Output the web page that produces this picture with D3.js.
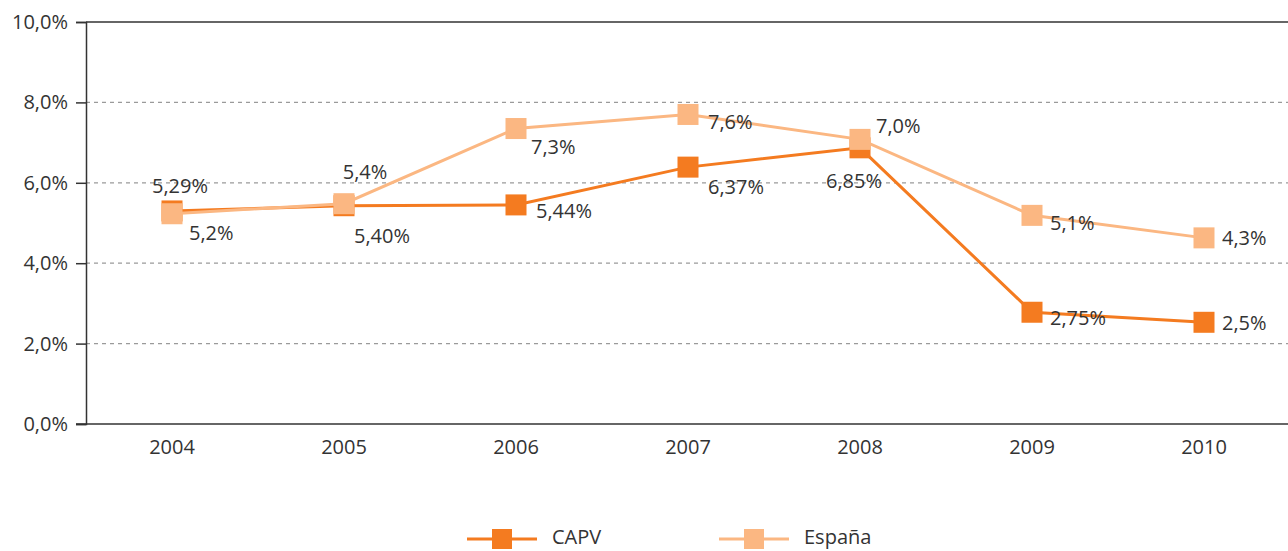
<!DOCTYPE html>
<html>
<head>
<meta charset="utf-8">
<script src="https://cdn.jsdelivr.net/npm/d3@7"></script>
<style>
  html, body { margin: 0; padding: 0; background: #fff; }
  svg { display: block; font-family: "Open Sans", "Noto Sans", sans-serif; }
</style>
</head>
<body>
<svg id="chart" width="1288" height="551"></svg>
<script>
// ---- data ----
const years = ["2004", "2005", "2006", "2007", "2008", "2009", "2010"];
const capvValues = [5.30, 5.43, 5.45, 6.39, 6.87, 2.78, 2.53];
const espanaValues = [5.23, 5.48, 7.35, 7.70, 7.08, 5.19, 4.63];
const capvLabels = ["5,29%", "5,40%", "5,44%", "6,37%", "6,85%", "2,75%", "2,5%"];
const espanaLabels = ["5,2%", "5,4%", "7,3%", "7,6%", "7,0%", "5,1%", "4,3%"];
const yTicks = [0, 2, 4, 6, 8, 10];
const seriesNames = ["CAPV", "España"];

// ---- layout ----
const W = 1288, H = 551;
const plot = { left: 86, right: 1290, top: 22, bottom: 424 };
const colors = { CAPV: "#F47B20", "España": "#FBB782" };
const textColor = "#333333";
const fontSize = 20;

// label placement (offsets from the point, anchor)
const capvLabelPos = [
  { dx: 8, dy: -18, a: "middle" },
  { dx: 10, dy: 37, a: "start" },
  { dx: 20, dy: 13, a: "start" },
  { dx: 20, dy: 27, a: "start" },
  { dx: -6, dy: 40, a: "middle" },
  { dx: 18, dy: 13, a: "start" },
  { dx: 18, dy: 8, a: "start" }
];
const espanaLabelPos = [
  { dx: 17, dy: 26, a: "start" },
  { dx: 21, dy: -25, a: "middle" },
  { dx: 15, dy: 25, a: "start" },
  { dx: 20, dy: 15, a: "start" },
  { dx: 16, dy: -6, a: "start" },
  { dx: 18, dy: 15, a: "start" },
  { dx: 18, dy: 7, a: "start" }
];

const svg = d3.select("#chart");

const x = d3.scaleBand().domain(years).range([plot.left, plot.right]);
const y = d3.scaleLinear().domain([0, 10]).range([plot.bottom, plot.top]);
const cx = d => x(d) + x.bandwidth() / 2;

// gridlines
svg.append("g")
  .selectAll("line")
  .data(yTicks.filter(t => t > 0 && t < 10))
  .join("line")
  .attr("x1", plot.left).attr("x2", W)
  .attr("y1", d => y(d)).attr("y2", d => y(d))
  .attr("stroke", "#9a9a9a")
  .attr("stroke-width", 1.3)
  .attr("stroke-dasharray", "4,4");

// top border line
svg.append("line")
  .attr("x1", plot.left).attr("x2", W)
  .attr("y1", y(10)).attr("y2", y(10))
  .attr("stroke", textColor).attr("stroke-width", 1.5);

// y axis
const yAxis = d3.axisLeft(y)
  .tickValues(yTicks)
  .tickSize(10)
  .tickPadding(8)
  .tickFormat(d => d3.format(".1f")(d).replace(".", ",") + "%");
const gy = svg.append("g").attr("transform", `translate(${plot.left},0)`).call(yAxis);
gy.select(".domain").attr("stroke", textColor).attr("stroke-width", 1.5);
gy.selectAll(".tick line").attr("stroke", textColor).attr("stroke-width", 1.5);
gy.selectAll(".tick text")
  .attr("fill", textColor)
  .style("font-size", fontSize + "px")
  .style("font-family", "'Open Sans', 'Noto Sans', sans-serif");

// x axis
const xAxis = d3.axisBottom(x).tickSize(0).tickPadding(16);
const gx = svg.append("g").attr("transform", `translate(0,${plot.bottom})`).call(xAxis);
gx.select(".domain").remove();
gx.selectAll(".tick text")
  .attr("fill", textColor)
  .style("font-size", fontSize + "px")
  .style("font-family", "'Open Sans', 'Noto Sans', sans-serif");
svg.append("line")
  .attr("x1", plot.left - 10).attr("x2", W)
  .attr("y1", y(0)).attr("y2", y(0))
  .attr("stroke", textColor).attr("stroke-width", 1.5);

// series
const series = [
  { name: "CAPV", values: capvValues, labels: capvLabels, pos: capvLabelPos },
  { name: "España", values: espanaValues, labels: espanaLabels, pos: espanaLabelPos }
];

const line = d3.line().x((d, i) => cx(years[i])).y(d => y(d));
const ms = 21;

series.forEach(s => {
  const g = svg.append("g");
  g.append("path")
    .datum(s.values)
    .attr("d", line)
    .attr("fill", "none")
    .attr("stroke", colors[s.name])
    .attr("stroke-width", 3);
  g.selectAll("rect")
    .data(s.values)
    .join("rect")
    .attr("x", (d, i) => cx(years[i]) - ms / 2)
    .attr("y", d => y(d) - ms / 2)
    .attr("width", ms).attr("height", ms)
    .attr("fill", colors[s.name]);
});

// labels on top
series.forEach(s => {
  svg.append("g")
    .selectAll("text")
    .data(s.values)
    .join("text")
    .attr("x", (d, i) => cx(years[i]) + s.pos[i].dx)
    .attr("y", (d, i) => y(d) + s.pos[i].dy)
    .attr("text-anchor", (d, i) => s.pos[i].a)
    .attr("fill", textColor)
    .style("font-size", fontSize + "px")
    .text((d, i) => s.labels[i]);
});

// legend
const legendY = 539;
const legendItems = [
  { name: seriesNames[0], x0: 467 },
  { name: seriesNames[1], x0: 719 }
];
const lg = svg.append("g");
legendItems.forEach(it => {
  lg.append("line")
    .attr("x1", it.x0).attr("x2", it.x0 + 70)
    .attr("y1", legendY).attr("y2", legendY)
    .attr("stroke", colors[it.name]).attr("stroke-width", 3);
  lg.append("rect")
    .attr("x", it.x0 + 35 - 10).attr("y", legendY - 10)
    .attr("width", 20).attr("height", 20)
    .attr("fill", colors[it.name]);
  lg.append("text")
    .attr("x", it.x0 + 85).attr("y", legendY + 5)
    .attr("fill", textColor)
    .style("font-size", fontSize + "px")
    .text(it.name);
});
</script>
</body>
</html>
